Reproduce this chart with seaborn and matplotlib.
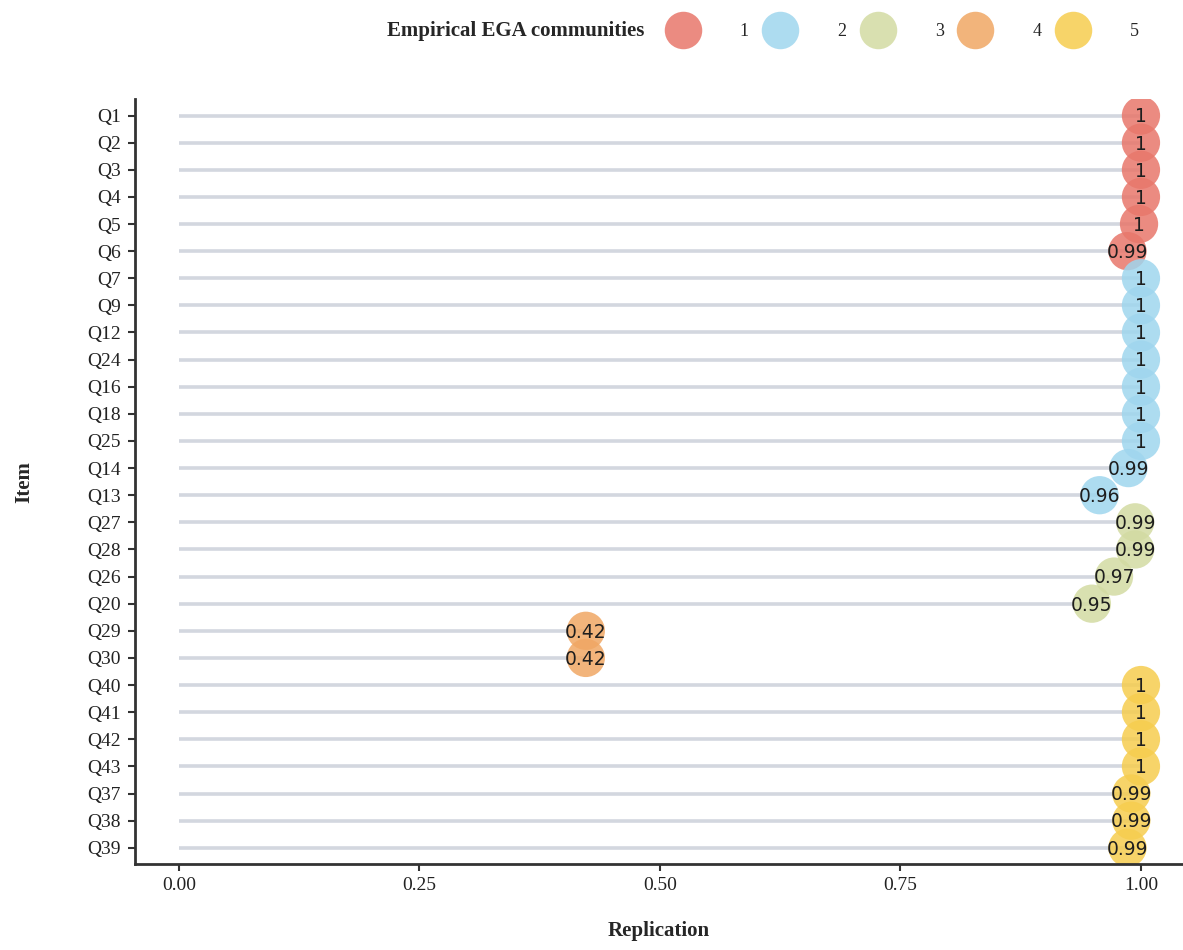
import numpy as np
import pandas as pd
import matplotlib
matplotlib.use("Agg")
import matplotlib.pyplot as plt
import seaborn as sns
from matplotlib.lines import Line2D

# item order top to bottom, replication proportion and empirical community
items = ["Q1", "Q2", "Q3", "Q4", "Q5", "Q6",
         "Q7", "Q9", "Q12", "Q24", "Q16", "Q18", "Q25", "Q14", "Q13",
         "Q27", "Q28", "Q26", "Q20",
         "Q29", "Q30",
         "Q40", "Q41", "Q42", "Q43", "Q37", "Q38", "Q39"]
replication = [1.0, 1.0, 1.0, 1.0, 0.998, 0.986,
               1.0, 1.0, 1.0, 1.0, 1.0, 1.0, 1.0, 0.987, 0.957,
               0.994, 0.994, 0.972, 0.949,
               0.423, 0.423,
               1.0, 1.0, 1.0, 1.0, 0.99, 0.99, 0.986]
community = ["1"] * 6 + ["2"] * 9 + ["3"] * 4 + ["4"] * 2 + ["5"] * 7

community_levels = ["1", "2", "3", "4", "5"]
community_colors = ["#E8776B", "#9FD6EE", "#D3DBA2", "#F0A764", "#F6CD4F"]
palette = dict(zip(community_levels, community_colors))

df = pd.DataFrame({"item": items, "replication": replication, "community": community})
df["pos"] = np.arange(len(df))


def fmt(v):
    r = round(v, 2)
    return "1" if r == 1 else f"{r:.2f}"


sns.set_style("white")
plt.rcParams["font.family"] = ["Liberation Serif", "DejaVu Serif"]

fig = plt.figure(figsize=(11.83, 9.5), dpi=100)
ax = fig.add_axes([0.114, 0.0905, 0.886, 0.805])

# lollipop stems
ax.hlines(df["pos"], 0, df["replication"], color="#D3D7DF", linewidth=2.6, zorder=1)

sns.scatterplot(data=df, x="replication", y="pos", hue="community",
                hue_order=community_levels, palette=palette, s=760, alpha=0.85,
                edgecolor="none", legend=False, ax=ax, zorder=2)

for _, row in df.iterrows():
    ax.text(row["replication"], row["pos"] + 0.05, fmt(row["replication"]),
            ha="center", va="center", fontsize=13.5, color="#1E1E1E",
            family="DejaVu Sans", zorder=3)

ax.set_xlim(-0.0457, 1.0437)
ax.set_ylim(len(df) - 0.4, -0.6)
ax.set_xticks([0, 0.25, 0.5, 0.75, 1.0])
ax.set_xticklabels(["0.00", "0.25", "0.50", "0.75", "1.00"], fontsize=14)
ax.set_yticks(df["pos"])
ax.set_yticklabels(df["item"], fontsize=14)
ax.tick_params(axis="both", length=5, width=1.5, color="#333333", direction="out",
               left=True, bottom=True, labelcolor="#222222")
ax.tick_params(axis="x", pad=4)
ax.tick_params(axis="y", pad=5)
for side in ["top", "right"]:
    ax.spines[side].set_visible(False)
for side in ["left", "bottom"]:
    ax.spines[side].set_color("#333333")
    ax.spines[side].set_linewidth(2)

ax.set_xlabel("Replication", fontsize=15, fontweight="bold", labelpad=20)
ax.set_ylabel("Item", fontsize=15, fontweight="bold", labelpad=38)

# legend across the top
fig.text(0.545, 0.967, "Empirical EGA communities", ha="right", va="center",
         fontsize=15, fontweight="bold")
handles = [Line2D([0], [0], marker="o", linestyle="", markersize=27,
                  markerfacecolor=c, markeredgecolor="none", alpha=0.85)
           for c in community_colors]
fig.legend(handles, community_levels, loc="center left", bbox_to_anchor=(0.552, 0.967),
           ncol=5, frameon=False, fontsize=13, handletextpad=2.4, columnspacing=1.0,
           handlelength=1.5)

fig.savefig("out.png", dpi=100, facecolor="white")
